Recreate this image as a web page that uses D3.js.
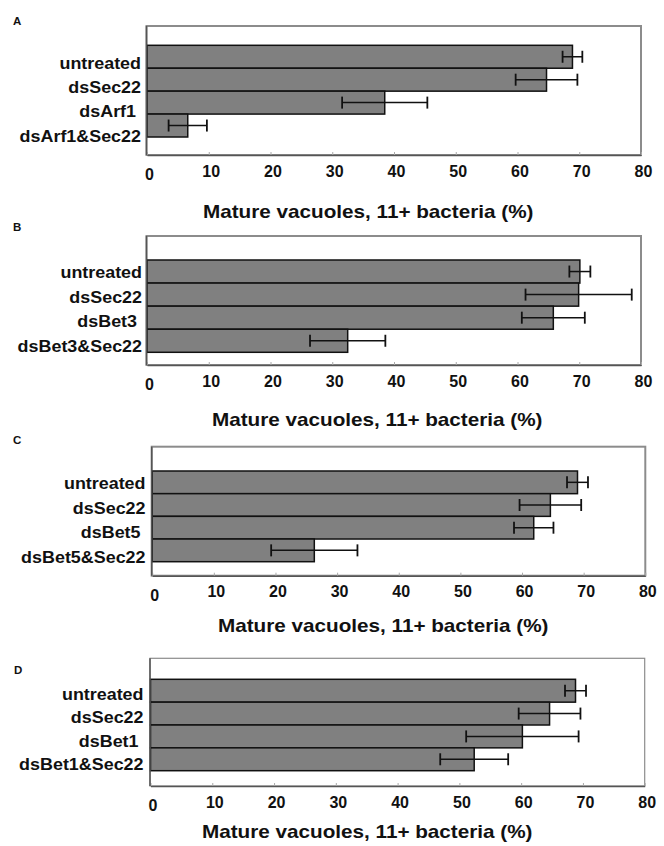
<!DOCTYPE html>
<html>
<head>
<meta charset="utf-8">
<script src="https://cdn.jsdelivr.net/npm/d3@7"></script>
<style>
  body { margin: 0; background: #fff; }
  text { font-family: "Liberation Sans", Arial, sans-serif; font-weight: bold; fill: #111; }
</style>
</head>
<body>
<div id="fig"></div>
<script>
// data
const panelNames = ["A", "B", "C", "D"];

const categoriesA = ["untreated", "dsSec22", "dsArf1\u00A0", "dsArf1&Sec22"];
const valuesA = [68.9, 64.7, 38.5, 6.6];
const errorsA = [1.6, 5.0, 6.9, 3.1];

const categoriesB = ["untreated", "dsSec22", "dsBet3\u00A0", "dsBet3&Sec22"];
const valuesB = [70.1, 69.9, 65.8, 32.5];
const errorsB = [1.7, 8.6, 5.1, 6.1];

const categoriesC = ["untreated", "dsSec22", "dsBet5\u00A0", "dsBet5&Sec22"];
const valuesC = [69.0, 64.6, 61.9, 26.3];
const errorsC = [1.7, 5.0, 3.2, 7.0];

const categoriesD = ["untreated", "dsSec22", "dsBet1\u00A0", "dsBet1&Sec22"];
const valuesD = [68.8, 64.6, 60.2, 52.4];
const errorsD = [1.7, 5.0, 9.1, 5.5];

const xTicks = [0, 10, 20, 30, 40, 50, 60, 70, 80];
const axisTitle = "Mature vacuoles, 11+ bacteria (%)";

const W = 664, H = 846;

// where each pasted panel sits on the page
const layout = [
  { fx0: 146.5, fx1: 641, fy0: 26, fy1: 155, b0: 45.3, b1: 137, l0: 69, l1: 141.7, lr: 141, tx: 203, ty: 218, px: 13, py: 25 },
  { fx0: 146.5, fx1: 641, fy0: 236, fy1: 365, b0: 260, b1: 352.3, l0: 278.3, l1: 351.7, lr: 142, tx: 212, ty: 426, px: 13, py: 231 },
  { fx0: 151.7, fx1: 645.3, fy0: 446.7, fy1: 575.7, b0: 471, b1: 561.7, l0: 489.3, l1: 562.7, lr: 145.5, tx: 218, ty: 632, px: 13, py: 444 },
  { fx0: 150, fx1: 644.7, fy0: 658.3, fy1: 786, b0: 679.3, b1: 770.7, l0: 700, l1: 770, lr: 143.5, tx: 202, ty: 838, px: 14, py: 674 }
];

const panels = [
  { cats: categoriesA, vals: valuesA, errs: errorsA },
  { cats: categoriesB, vals: valuesB, errs: errorsB },
  { cats: categoriesC, vals: valuesC, errs: errorsC },
  { cats: categoriesD, vals: valuesD, errs: errorsD }
];

const svg = d3.select("#fig").append("svg")
    .attr("width", W)
    .attr("height", H);

panels.forEach(function (p, i) {
  const L = layout[i];
  const g = svg.append("g");

  const x = d3.scaleLinear()
      .domain([0, 80])
      .range([L.fx0 + 0.5, L.fx1]);

  const y = d3.scaleBand()
      .domain(p.cats)
      .range([L.b0, L.b1])
      .padding(0);

  const yLab = d3.scalePoint()
      .domain(p.cats)
      .range([L.l0, L.l1]);

  // frame
  g.append("rect")
      .attr("x", L.fx0)
      .attr("y", L.fy0)
      .attr("width", L.fx1 - L.fx0)
      .attr("height", L.fy1 - L.fy0)
      .attr("fill", "#fff")
      .attr("stroke", "#8c8c8c")
      .attr("stroke-width", i == 3 ? 1.2 : 2);

  // bars
  g.selectAll(".bar")
      .data(p.vals)
      .enter()
      .append("rect")
      .attr("x", x(0))
      .attr("y", (d, j) => y(p.cats[j]))
      .attr("width", d => x(d) - x(0))
      .attr("height", y.bandwidth())
      .attr("fill", "#808080")
      .attr("stroke", "#111")
      .attr("stroke-width", 1.5);

  // error bars
  const eb = g.selectAll(".err")
      .data(p.vals)
      .enter()
      .append("g")
      .attr("transform", (d, j) => `translate(0,${y(p.cats[j]) + y.bandwidth() / 2})`);
  eb.append("line")
      .attr("x1", (d, j) => x(d - p.errs[j]))
      .attr("x2", (d, j) => x(d + p.errs[j]))
      .attr("stroke", "#111")
      .attr("stroke-width", 1.5);
  eb.append("line")
      .attr("x1", (d, j) => x(d - p.errs[j]))
      .attr("x2", (d, j) => x(d - p.errs[j]))
      .attr("y1", -6).attr("y2", 6)
      .attr("stroke", "#111")
      .attr("stroke-width", 1.8);
  eb.append("line")
      .attr("x1", (d, j) => x(d + p.errs[j]))
      .attr("x2", (d, j) => x(d + p.errs[j]))
      .attr("y1", -6).attr("y2", 6)
      .attr("stroke", "#111")
      .attr("stroke-width", 1.8);

  // x axis
  const ax = g.append("g")
      .attr("transform", `translate(0,${L.fy1})`)
      .call(d3.axisBottom(x).tickValues(xTicks).tickSizeInner(-3).tickSizeOuter(0).tickPadding(0));
  ax.select(".domain").attr("stroke", "#555").attr("stroke-width", 1.5);
  ax.selectAll(".tick line").attr("stroke", "#aaa");
  ax.selectAll(".tick text")
      .attr("x", 2)
      .attr("y", d => d === 0 ? 25 : 21.5)
      .attr("dy", 0)
      .style("font-size", "16px")
      .style("font-family", "'Liberation Sans', Arial, sans-serif")
      .style("font-weight", "bold")
      .attr("fill", "#111");

  // left axis line
  g.append("line")
      .attr("x1", L.fx0).attr("x2", L.fx0)
      .attr("y1", L.fy0).attr("y2", L.fy1)
      .attr("stroke", "#555")
      .attr("stroke-width", 1.5);

  // category labels
  g.selectAll(".cat")
      .data(p.cats)
      .enter()
      .append("text")
      .attr("transform", d => `translate(${L.lr},${yLab(d)}) scale(1.12,1)`)
      .attr("text-anchor", "end")
      .style("font-size", "16px")
      .text(d => d);

  // axis title
  g.append("text")
      .attr("transform", `translate(${L.tx},${L.ty}) scale(1.15,1)`)
      .style("font-size", "18px")
      .text(axisTitle);

  // panel letter
  g.append("text")
      .attr("x", L.px)
      .attr("y", L.py)
      .style("font-size", "11.5px")
      .text(panelNames[i]);
});
</script>
</body>
</html>
